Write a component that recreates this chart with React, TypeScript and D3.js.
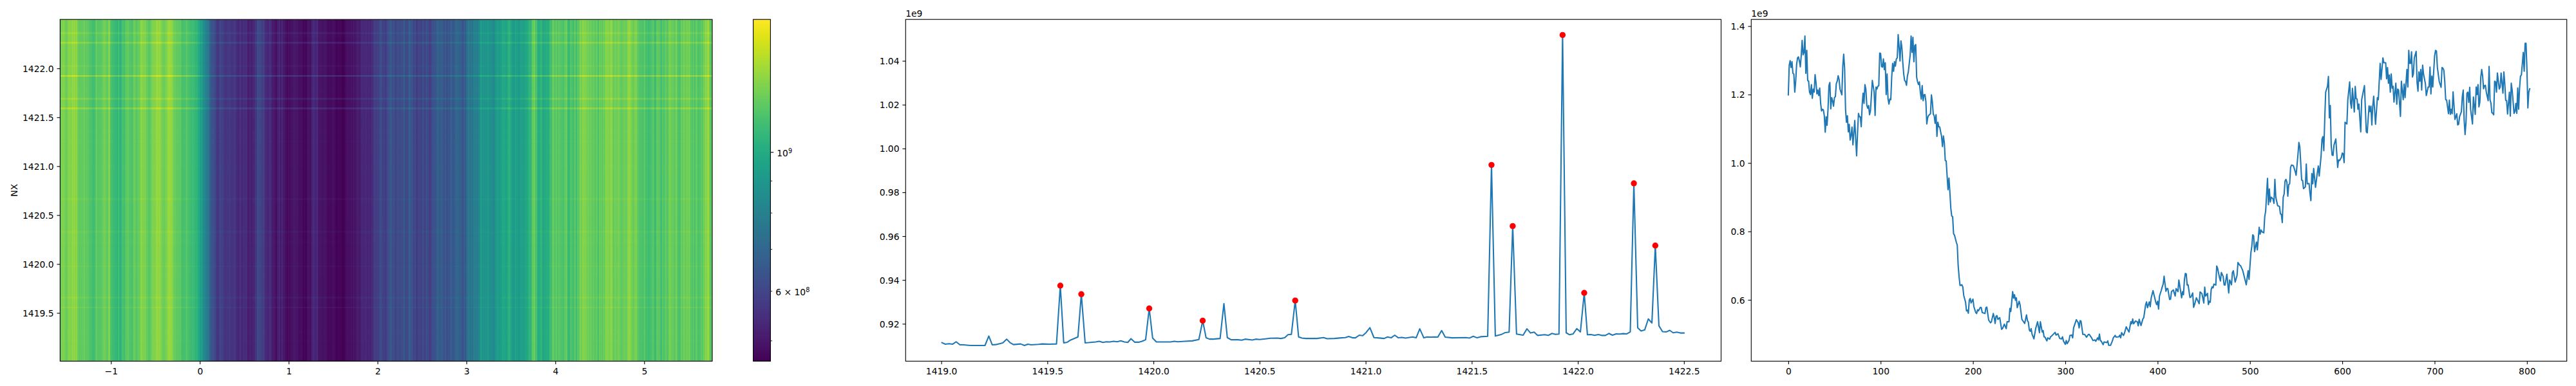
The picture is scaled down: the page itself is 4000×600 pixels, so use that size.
import React, { useEffect, useRef } from "react";
import * as d3 from "d3";

// Mean profile along NX (third panel), values in units of 1e6, read at line vertices
const profileIdx = [
  0,1,2,3,4,5,6,7,8,9,10,11,12,13,14,15,16,17,18,19,
  20,21,22,23,24,25,26,27,28,29,30,31,32,33,34,35,36,37,38,39,
  40,41,42,43,44,45,46,47,48,49,50,51,52,53,54,55,56,58,59,60,
  61,62,63,64,65,66,67,68,69,70,72,73,74,75,76,77,78,79,80,81,
  82,83,84,85,86,87,88,89,91,92,93,94,95,96,97,98,99,100,101,102,
  103,104,105,106,107,108,109,110,111,112,113,114,115,116,117,118,119,120,121,122,
  123,124,125,126,127,128,129,130,132,133,134,135,136,137,138,139,140,141,142,143,
  144,145,146,147,148,149,150,151,152,154,155,156,157,158,159,160,161,162,163,164,
  165,166,167,168,169,170,171,172,173,174,175,176,177,178,179,180,182,183,184,185,
  186,188,189,190,192,193,194,195,196,197,198,200,201,203,204,205,206,208,209,210,
  213,214,215,216,217,219,220,222,223,224,225,226,227,229,231,232,234,236,237,239,
  240,241,243,244,245,246,247,248,250,251,253,254,256,258,259,260,261,262,263,264,
  266,268,270,272,273,275,276,277,278,280,281,283,284,285,289,290,292,294,296,297,
  298,300,301,302,304,305,307,308,309,312,314,315,316,317,319,321,323,325,326,328,
  330,332,333,335,336,337,338,339,341,342,345,346,347,349,351,352,354,355,358,359,
  360,361,363,364,366,368,369,371,372,373,374,376,378,379,380,382,384,385,387,388,
  389,391,392,393,395,398,399,400,401,402,404,405,406,407,409,410,411,413,414,415,
  417,419,420,422,423,426,427,428,429,430,431,432,433,435,436,438,439,440,442,445,
  446,448,450,451,452,454,455,456,457,458,459,460,461,463,464,465,467,468,469,471,
  472,473,475,477,478,480,481,482,484,486,487,489,490,492,493,496,498,499,501,502,
  503,504,505,507,508,510,511,512,513,515,516,517,519,520,521,522,523,525,526,527,
  528,530,532,533,534,535,536,537,538,539,540,541,542,543,544,545,547,549,550,552,
  553,554,555,556,557,558,560,561,562,564,565,566,567,568,569,570,571,573,574,575,
  577,578,579,580,581,582,584,585,586,587,588,589,590,591,593,595,596,597,599,600,
  601,602,603,605,606,608,609,610,611,613,614,615,616,617,618,620,621,624,626,627,
  629,630,631,632,633,634,636,638,639,641,642,644,645,647,648,649,650,651,652,653,
  654,655,656,658,659,660,661,663,664,666,667,668,670,671,672,673,674,675,676,677,
  678,680,681,682,683,684,685,686,687,688,690,691,693,694,695,696,697,698,700,701,
  702,703,705,707,708,709,710,711,712,713,715,716,717,718,719,720,722,724,725,726,
  727,729,730,731,732,733,734,735,736,737,738,739,741,742,744,745,746,747,748,749,
  750,751,752,753,754,755,756,758,759,760,761,762,763,764,765,766,767,768,770,771,
  772,774,775,776,777,778,779,781,782,783,784,786,787,788,789,790,791,792,793,794,
  796,797,798,799,800,801,802,803,
];
const profileValues = [
  1199,1285,1299,1279,1296,1262,1260,1207,1238,1288,1307,1310,1298,1281,1313,1358,1316,1323,1371,1262,
  1329,1241,1239,1207,1200,1229,1189,1216,1207,1258,1235,1202,1213,1197,1219,1175,1152,1157,1155,1138,
  1090,1135,1110,1157,1226,1235,1158,1191,1182,1166,1191,1194,1232,1239,1255,1244,1216,1199,1282,1318,
  1276,1157,1119,1138,1091,1113,1067,1081,1105,1053,1124,1069,1021,1088,1145,1135,1135,1106,1169,1204,
  1174,1229,1216,1169,1160,1168,1141,1153,1241,1224,1207,1139,1222,1216,1224,1226,1321,1320,1282,1280,
  1304,1273,1293,1200,1260,1188,1172,1187,1185,1251,1291,1268,1296,1283,1304,1307,1375,1338,1298,1357,
  1338,1294,1260,1241,1238,1227,1254,1266,1316,1371,1323,1367,1296,1343,1346,1251,1237,1229,1237,1207,
  1187,1226,1182,1199,1200,1180,1114,1133,1139,1144,1199,1179,1143,1138,1116,1141,1078,1119,1106,1105,
  1091,1078,1048,1079,1059,1007,1006,962,922,956,915,868,845,843,793,789,768,760,699,667,
  642,644,638,613,593,568,570,561,599,604,591,602,580,563,560,571,568,578,577,563,
  560,577,579,560,541,533,536,560,549,531,552,554,543,548,514,516,529,516,536,536,
  575,566,624,605,615,599,606,577,596,586,543,539,531,556,539,535,512,508,516,500,
  486,517,536,504,536,506,510,492,491,480,489,485,492,494,505,497,501,487,486,492,
  480,470,481,472,481,496,497,489,518,542,533,518,539,538,499,499,491,499,499,491,
  481,483,479,489,483,500,481,479,469,477,475,480,467,467,480,489,496,491,492,497,
  489,504,496,502,521,511,506,536,530,544,530,538,536,524,543,525,544,548,586,594,
  577,594,580,605,627,593,586,596,573,611,628,638,646,669,625,633,633,601,602,624,
  629,611,633,624,658,606,624,615,658,677,676,643,644,607,608,620,578,586,606,589,
  623,618,591,637,611,619,586,596,593,630,638,635,646,643,699,692,665,655,680,668,
  644,643,675,620,658,644,680,685,652,671,709,701,699,687,677,644,685,660,737,756,
  790,787,741,769,746,812,792,804,799,796,843,859,955,878,924,886,900,895,882,952,
  900,875,873,851,850,826,900,909,947,952,944,903,937,939,987,994,992,975,964,1025,
  1060,1047,1000,950,949,925,930,997,939,940,912,890,969,939,984,956,929,972,991,962,
  1019,1069,1077,1036,1128,1207,1224,1253,1132,1168,1052,1023,1022,1052,1070,987,1009,1007,1016,1029,
  1027,1001,1119,1114,1185,1237,1175,1160,1218,1149,1224,1188,1187,1157,1172,1091,1185,1226,1091,1088,
  1167,1150,1166,1111,1166,1195,1113,1191,1185,1291,1244,1307,1293,1293,1246,1279,1233,1257,1207,1260,
  1219,1224,1178,1233,1172,1216,1213,1136,1239,1185,1231,1191,1273,1222,1329,1291,1291,1325,1251,1260,
  1307,1326,1235,1210,1266,1239,1273,1213,1286,1260,1232,1197,1222,1222,1280,1202,1254,1222,1313,1329,
  1327,1279,1238,1221,1279,1277,1271,1238,1185,1184,1144,1184,1142,1157,1144,1208,1127,1144,1111,1113,
  1135,1150,1194,1213,1125,1083,1119,1204,1207,1177,1221,1157,1114,1193,1142,1222,1200,1229,1164,1178,
  1251,1273,1254,1217,1226,1227,1207,1182,1282,1185,1175,1147,1145,1141,1239,1237,1207,1263,1216,1222,
  1263,1204,1266,1232,1183,1182,1143,1207,1137,1233,1213,1145,1150,1174,1145,1219,1157,1219,1254,1257,
  1323,1268,1350,1350,1273,1161,1207,1217,
];

// Spectrum (middle panel), values in units of 1e6, read at line vertices
const specX = [
  1419.003,1419.019,1419.037,1419.054,1419.070,1419.088,1419.104,1419.138,1419.172,1419.206,1419.224,1419.240,1419.257,1419.290,1419.308,1419.324,1419.340,1419.374,1419.392,1419.408,
  1419.424,1419.458,1419.476,1419.510,1419.543,1419.561,1419.577,1419.594,1419.610,1419.644,1419.660,1419.678,1419.694,1419.728,1419.744,1419.762,1419.778,1419.795,1419.812,1419.829,
  1419.846,1419.863,1419.879,1419.894,1419.912,1419.930,1419.946,1419.963,1419.980,1419.996,1420.014,1420.081,1420.098,1420.114,1420.148,1420.182,1420.214,1420.232,1420.248,1420.264,
  1420.282,1420.314,1420.332,1420.348,1420.366,1420.398,1420.416,1420.432,1420.466,1420.482,1420.500,1420.534,1420.550,1420.584,1420.600,1420.618,1420.634,1420.650,1420.668,1420.684,
  1420.700,1420.718,1420.770,1420.802,1420.818,1420.852,1420.886,1420.904,1420.920,1420.938,1420.952,1420.970,1420.986,1421.002,1421.020,1421.039,1421.055,1421.087,1421.103,1421.120,
  1421.137,1421.154,1421.171,1421.188,1421.221,1421.238,1421.255,1421.274,1421.290,1421.308,1421.324,1421.340,1421.358,1421.375,1421.408,1421.473,1421.490,1421.507,1421.525,1421.542,
  1421.575,1421.593,1421.611,1421.641,1421.658,1421.676,1421.693,1421.711,1421.742,1421.760,1421.777,1421.794,1421.810,1421.844,1421.861,1421.878,1421.894,1421.911,1421.928,1421.945,
  1421.961,1421.978,1421.995,1422.012,1422.030,1422.045,1422.062,1422.079,1422.096,1422.112,1422.130,1422.146,1422.163,1422.180,1422.197,1422.213,1422.231,1422.247,1422.264,1422.282,
  1422.298,1422.315,1422.332,1422.349,1422.365,1422.382,1422.399,1422.417,1422.433,1422.449,1422.466,1422.483,1422.500,
];
const specValues = [
  911.4,910.7,910.9,910.7,911.8,910.4,910.4,910.1,910.1,910.1,914.4,910.4,910.5,911.3,913.0,911.4,910.5,910.8,910.1,910.7,
  910.4,910.6,910.8,910.7,910.8,937.4,911.3,911.6,912.6,914.0,933.5,911.3,911.4,911.7,912,911.5,911.8,911.7,912,911.8,
  912.2,911.7,911.5,913.2,911.6,911.6,912,912.7,927,913.5,911.7,911.7,912,911.8,912,912.2,912.8,921.4,913.6,913,
  913,913.3,929.2,913.7,912.7,912.7,912.5,913,912.6,913,912.8,913.2,913.4,913.5,913.3,913.6,915,915.2,930.6,914,
  913.5,913.3,913.3,913.7,913.2,913.3,913.6,913.7,914.2,913.6,913.6,914.8,914.6,916,918.2,913.7,913.6,913.3,914,913.6,
  914.8,913.6,913.8,913.5,914,913.6,917.7,913.6,914,913.9,914,913.9,916.9,913.9,913.6,913.7,913.5,914.3,913.6,914.1,
  914.3,992.5,914.4,915.2,916,916.2,964.6,915.3,914.8,917.7,915.8,916.2,914.7,915,914.7,915.6,915.2,915.3,1051.8,915.9,
  915,915.4,917.8,916.3,934.1,915,915.1,914.7,915.1,914.7,914.7,915.6,914.8,915.4,915.3,915.5,915.4,916.3,984.1,918.2,
  916.7,917.2,922.2,920.4,955.7,919.1,916.4,916.3,917,915.9,916.2,915.8,915.8,
];
const peakX = [1419.561,1419.660,1419.980,1420.232,1420.668,1421.593,1421.693,1421.928,1422.030,1422.264,1422.365];

// Heatmap: spectrum x profile, divided by the baseline level
const heatNorm = 920;
const colorMin = 464;
const colorMax = 1630;
const colorMajorTicks = [1000];
const colorMinorTicks = [900, 800, 700, 600, 500];
const heatXTicks = [-1, 0, 1, 2, 3, 4, 5];
const heatYTicks = [1419.5, 1420.0, 1420.5, 1421.0, 1421.5, 1422.0];
const specXTicks = [1419.0, 1419.5, 1420.0, 1420.5, 1421.0, 1421.5, 1422.0, 1422.5];
const specYTicks = [920, 940, 960, 980, 1000, 1020, 1040];
const profXTicks = [0, 100, 200, 300, 400, 500, 600, 700, 800];
const profYTicks = [600, 800, 1000, 1200, 1400];

const FONT = "'DejaVu Sans'";
const FS = 13.89;
const TOP = 30.2;
const BOTTOM = 561.4;
const LINE = "#1f77b4";

const heatBox = { l: 93.3, r: 1106 };
const cbBox = { l: 1169.6, r: 1196.4 };
const specBox = { l: 1406.25, r: 2672.5 };
const profBox = { l: 2719.3, r: 3985.7 };

const heatX = d3.scaleLinear().domain([-1.5725, 5.766]).range([heatBox.l, heatBox.r]);
const heatY = d3.scaleLinear().domain([1419.007, 1422.5]).range([BOTTOM, TOP]);
const heatCol = d3.scaleLinear().domain([0, 804]).range([heatBox.l, heatBox.r]);
const specXS = d3.scaleLinear().domain([1418.832, 1422.675]).range([specBox.l, specBox.r]);
const specYS = d3.scaleLinear().domain([902.94, 1058.9]).range([BOTTOM, TOP]);
const profXS = d3.scaleLinear().domain([-40.15, 843.15]).range([profBox.l, profBox.r]);
const profYS = d3.scaleLinear().domain([420.8, 1419.5]).range([BOTTOM, TOP]);
const colorPos = d3.scaleLog().domain([colorMin, colorMax]).range([0, 1]).clamp(true);
const cbY = d3.scaleLog().domain([colorMin, colorMax]).range([BOTTOM, TOP]);
const heatColor = (v: number) => d3.interpolateViridis(colorPos(v));

const profileLine = d3.line<number>()
  .x((_, i) => profXS(profileIdx[i]))
  .y((v) => profYS(v));
const specLine = d3.line<number>()
  .x((_, i) => specXS(specX[i]))
  .y((v) => specYS(v));

function nearestSpec(x: number) {
  let best = 0;
  specX.forEach((s, i) => {
    if (Math.abs(s - x) < Math.abs(specX[best] - x)) best = i;
  });
  return specValues[best];
}

function styleAxis(g: any) {
  g.select(".domain").remove();
  g.selectAll("line").attr("stroke", "#000").attr("stroke-width", 1.11);
  g.selectAll("text").attr("fill", "#000").attr("font-size", FS).attr("font-family", FONT);
}

function heatRows() {
  const rows: { y0: number; y1: number; vals: number[] }[] = [];
  specX.forEach((x, i) => {
    const lo = i === 0 ? heatY.domain()[0] : (specX[i - 1] + x) / 2;
    const hi = i === specX.length - 1 ? heatY.domain()[1] : (specX[i + 1] + x) / 2;
    const key = Math.round(specValues[i] / 1.5);
    const last = rows[rows.length - 1];
    if (last && Math.round(d3.mean(last.vals)! / 1.5) === key) {
      last.y1 = hi;
      last.vals.push(specValues[i]);
    } else {
      rows.push({ y0: lo, y1: hi, vals: [specValues[i]] });
    }
  });
  return rows.map((r) => ({ y0: r.y0, y1: r.y1, v: d3.mean(r.vals)! }));
}

export default function App() {
  const heatRef = useRef<SVGGElement>(null);
  const axesRef = useRef<SVGGElement>(null);

  useEffect(() => {
    const rows = heatRows();
    const cells: { x: number; w: number; y: number; h: number; fill: string }[] = [];
    profileIdx.forEach((idx, i) => {
      const lo = i === 0 ? 0 : (profileIdx[i - 1] + idx) / 2 + 0.5;
      const hi = i === profileIdx.length - 1 ? 804 : (profileIdx[i + 1] + idx) / 2 + 0.5;
      rows.forEach((r) => {
        cells.push({
          x: heatCol(lo),
          w: heatCol(hi) - heatCol(lo) + 0.7,
          y: heatY(r.y1),
          h: heatY(r.y0) - heatY(r.y1) + 0.7,
          fill: heatColor((profileValues[i] * r.v) / heatNorm),
        });
      });
    });
    d3.select(heatRef.current)
      .selectAll("rect")
      .data(cells)
      .join("rect")
      .attr("x", (d) => d.x)
      .attr("y", (d) => d.y)
      .attr("width", (d) => d.w)
      .attr("height", (d) => d.h)
      .attr("fill", (d) => d.fill)
      .attr("shape-rendering", "crispEdges");

    const root = d3.select(axesRef.current);
    root.selectAll("*").remove();
    const bottom = (scale: any, ticks: number[], fmt: (v: number) => string) =>
      root.append("g").attr("transform", `translate(0,${BOTTOM})`).call(
        d3.axisBottom(scale).tickValues(ticks).tickSize(4.86).tickPadding(6.3).tickFormat(fmt as any) as any
      ).call(styleAxis);
    const left = (scale: any, ticks: number[], fmt: (v: number) => string, x: number) =>
      root.append("g").attr("transform", `translate(${x},0)`).call(
        d3.axisLeft(scale).tickValues(ticks).tickSize(4.86).tickPadding(4.86).tickFormat(fmt as any) as any
      ).call(styleAxis).call((g: any) => g.selectAll("text").attr("dy", "0.36em"));

    bottom(heatX, heatXTicks, (v) => (v < 0 ? "\u2212" + Math.abs(v) : String(v)));
    left(heatY, heatYTicks, (v) => v.toFixed(1), heatBox.l);
    bottom(specXS, specXTicks, (v) => v.toFixed(1));
    left(specYS, specYTicks, (v) => (v / 1000).toFixed(2), specBox.l);
    bottom(profXS, profXTicks, (v) => String(v));
    left(profYS, profYTicks, (v) => (v / 1000).toFixed(1), profBox.l);
  }, []);

  const cbSteps = d3.range(256);
  const cbH = (BOTTOM - TOP) / 256;
  const box = (l: number, r: number) => (
    <rect x={l} y={TOP} width={r - l} height={BOTTOM - TOP} fill="none" stroke="#000" strokeWidth={1.11} />
  );
  const txt = { fontFamily: FONT, fontSize: FS, fill: "#000" };

  return (
    <svg width={4000} height={600} style={{ position: "absolute", left: 0, top: 0, background: "#fff" }}>
      <defs>
        <clipPath id="heat-clip">
          <rect x={heatBox.l} y={TOP} width={heatBox.r - heatBox.l} height={BOTTOM - TOP} />
        </clipPath>
      </defs>
      <g ref={heatRef} clipPath="url(#heat-clip)" />
      {box(heatBox.l, heatBox.r)}
      <text transform={`translate(26.7,${(TOP + BOTTOM) / 2}) rotate(-90)`} textAnchor="middle" {...txt}>NX</text>

      {cbSteps.map((i) => (
        <rect
          key={i}
          x={cbBox.l}
          y={BOTTOM - (i + 1) * cbH}
          width={cbBox.r - cbBox.l}
          height={cbH + 0.6}
          fill={d3.interpolateViridis((i + 0.5) / 256)}
          shapeRendering="crispEdges"
        />
      ))}
      {box(cbBox.l, cbBox.r)}
      {colorMajorTicks.map((v) => (
        <g key={v}>
          <line x1={cbBox.r} x2={cbBox.r + 4.86} y1={cbY(v)} y2={cbY(v)} stroke="#000" strokeWidth={1.11} />
          <text x={cbBox.r + 9.9} y={cbY(v) + 6.3} {...txt}>
            10<tspan dy={-5.3} fontSize={9.7}>9</tspan>
          </text>
        </g>
      ))}
      {colorMinorTicks.map((v) => (
        <line key={v} x1={cbBox.r} x2={cbBox.r + 2.78} y1={cbY(v)} y2={cbY(v)} stroke="#000" strokeWidth={0.83} />
      ))}
      <text x={cbBox.r + 7.8} y={cbY(600) + 6.3} {...txt}>
        6 × 10<tspan dy={-5.3} fontSize={9.7}>8</tspan>
      </text>

      {box(specBox.l, specBox.r)}
      <path d={specLine(specValues)!} fill="none" stroke={LINE} strokeWidth={2.08} strokeLinejoin="round" strokeLinecap="square" />
      {peakX.map((x) => (
        <circle key={x} cx={specXS(x)} cy={specYS(nearestSpec(x))} r={4.7} fill="#ff0000" />
      ))}
      <text x={specBox.l} y={26} {...txt}>1e9</text>

      {box(profBox.l, profBox.r)}
      <path d={profileLine(profileValues)!} fill="none" stroke={LINE} strokeWidth={2.08} strokeLinejoin="round" strokeLinecap="square" />
      <text x={profBox.l} y={26} {...txt}>1e9</text>

      <g ref={axesRef} />
    </svg>
  );
}
